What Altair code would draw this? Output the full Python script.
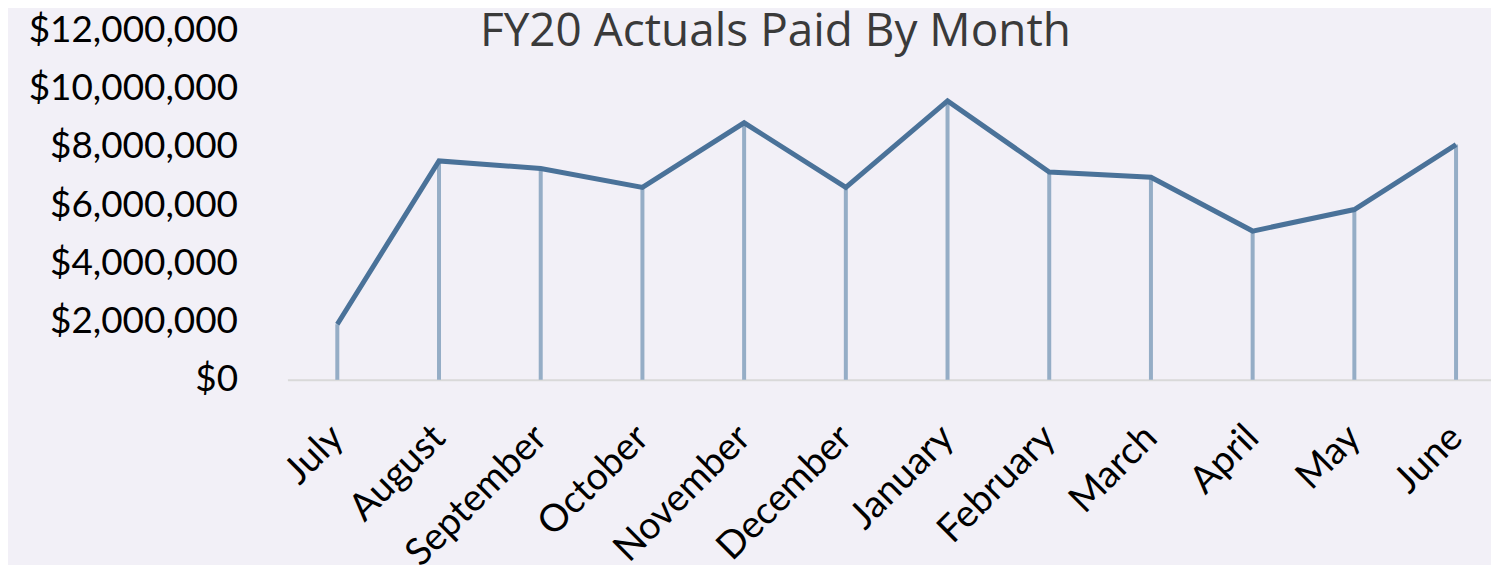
import altair as alt
import pandas as pd

title_text = ["FY20 Actuals Paid By Month"]
months = ["July", "August", "September", "October", "November", "December",
          "January", "February", "March", "April", "May", "June"]
values = [1910000, 7520000, 7260000, 6610000, 8830000, 6610000,
          9580000, 7140000, 6960000, 5110000, 5850000, 8080000]
y_ticks = [0, 2000000, 4000000, 6000000, 8000000, 10000000, 12000000]

df = pd.DataFrame({"month": months, "value": values})

x_enc = alt.X(
    "month:N", sort=months,
    scale=alt.Scale(type="point", padding=0.417, align=0.588),
    axis=alt.Axis(title=None, labelAngle=-45, labelAlign="right", labelBaseline="middle",
                  labelFontSize=38, labelFont="Lato", labelColor="#000000", labelLimit=0,
                  labelPadding=52, ticks=False, domainColor="#d9d9d9", domainWidth=2,
                  grid=False),
)
y_enc = alt.Y(
    "value:Q",
    scale=alt.Scale(domain=[0, 12000000]),
    axis=alt.Axis(title=None, format="$,.0f", values=y_ticks, grid=False, domain=False,
                  ticks=False, labelFontSize=37, labelFont="Lato", labelColor="#000000",
                  labelPadding=50, labelLimit=0),
)

base = alt.Chart(df)
rules = base.mark_rule(color="#95adc6", strokeWidth=4).encode(
    x=x_enc, y=y_enc, y2=alt.datum(0)
)
line = base.mark_line(color="#4a7299", strokeWidth=5).encode(x=x_enc, y=y_enc)

title = alt.Chart(pd.DataFrame({"t": title_text})).mark_text(
    font="Open Sans", fontSize=46, color="#3a3a3a", align="center", baseline="alphabetic"
).encode(text="t:N", x=alt.value(489), y=alt.value(16))

chart = alt.layer(rules, line, title).properties(
    width=1206, height=350,
    autosize=alt.AutoSizeParams(type="none"),
    padding={"left": 280, "top": 22, "right": 0, "bottom": 185},
    background="#f2f0f7",
).configure_view(stroke=None)

chart.save("out.html", embed_options={"renderer": "svg", "actions": False})
